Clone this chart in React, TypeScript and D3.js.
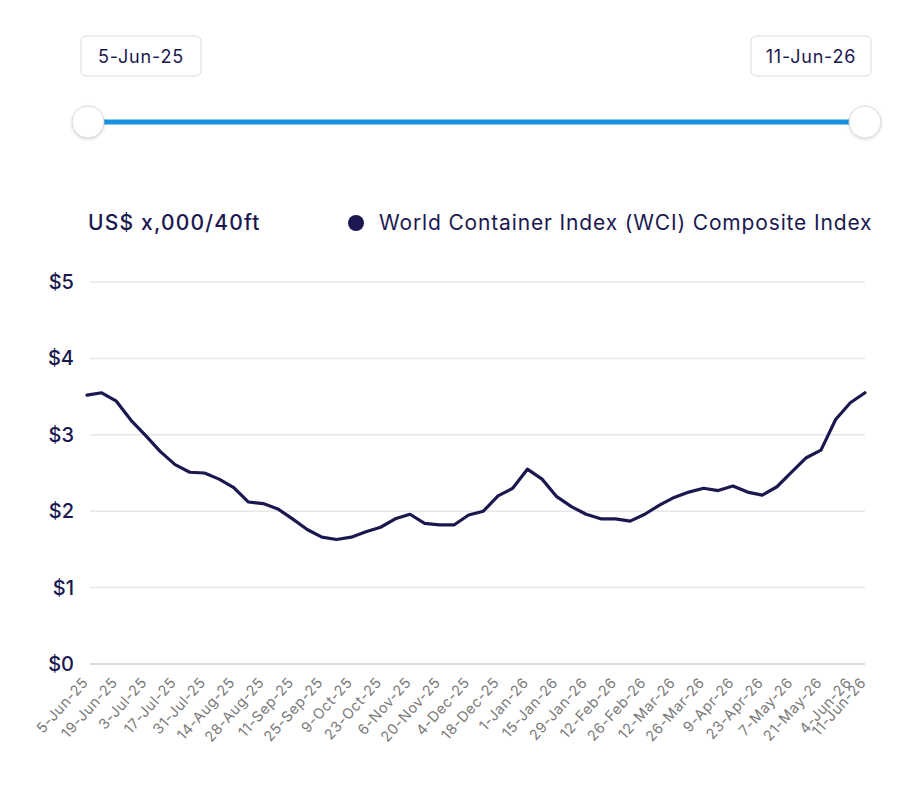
import * as d3 from "d3";
import { useEffect, useRef } from "react";

const weeks = [
  "5-Jun-25", "12-Jun-25", "19-Jun-25", "26-Jun-25", "3-Jul-25", "10-Jul-25", "17-Jul-25", "24-Jul-25",
  "31-Jul-25", "7-Aug-25", "14-Aug-25", "21-Aug-25", "28-Aug-25", "4-Sep-25", "11-Sep-25", "18-Sep-25",
  "25-Sep-25", "2-Oct-25", "9-Oct-25", "16-Oct-25", "23-Oct-25", "30-Oct-25", "6-Nov-25", "13-Nov-25",
  "20-Nov-25", "27-Nov-25", "4-Dec-25", "11-Dec-25", "18-Dec-25", "25-Dec-25", "1-Jan-26", "8-Jan-26",
  "15-Jan-26", "22-Jan-26", "29-Jan-26", "5-Feb-26", "12-Feb-26", "19-Feb-26", "26-Feb-26", "5-Mar-26",
  "12-Mar-26", "19-Mar-26", "26-Mar-26", "2-Apr-26", "9-Apr-26", "16-Apr-26", "23-Apr-26", "30-Apr-26",
  "7-May-26", "14-May-26", "21-May-26", "28-May-26", "4-Jun-26", "11-Jun-26",
];

// WCI composite, US$ thousands per 40ft
const wci = [
  3.52, 3.55, 3.44, 3.19, 2.99, 2.78, 2.61, 2.51, 2.5, 2.42, 2.31, 2.12, 2.1, 2.03, 1.9, 1.76,
  1.66, 1.63, 1.66, 1.73, 1.79, 1.9, 1.96, 1.84, 1.82, 1.82, 1.95, 2.0, 2.2, 2.3, 2.55, 2.42,
  2.19, 2.06, 1.96, 1.9, 1.9, 1.87, 1.96, 2.08, 2.18, 2.25, 2.3, 2.27, 2.33, 2.25, 2.21, 2.32,
  2.51, 2.7, 2.8, 3.2, 3.42, 3.55,
];

const yTicks = [0, 1, 2, 3, 4, 5];
const tickLabels = weeks.filter((_, i) => i % 2 === 0 || i === weeks.length - 1);

const NAVY = "#1b1850";
const FONT = "Inter, 'Noto Sans', sans-serif";

export default function App() {
  const svgRef = useRef<SVGSVGElement>(null);

  useEffect(() => {
    const svg = d3.select(svgRef.current);
    svg.selectAll("*").remove();

    const width = 900;
    const height = 797;
    const margin = { top: 282, right: 35, bottom: 133, left: 87 };

    svg.attr("width", width).attr("height", height).style("font-family", FONT);

    const defs = svg.append("defs");
    const sh = defs.append("filter").attr("id", "shadow").attr("x", "-50%").attr("y", "-50%").attr("width", "200%").attr("height", "200%");
    sh.append("feDropShadow").attr("dx", 0).attr("dy", 1).attr("stdDeviation", 1.5).attr("flood-color", "#000").attr("flood-opacity", 0.18);

    // --- range slider at top ---
    const boxes = [
      { label: weeks[0], x: 81 },
      { label: weeks[weeks.length - 1], x: 751 },
    ];
    const bx = svg.selectAll("g.box").data(boxes).enter().append("g").attr("class", "box");
    bx.append("rect")
      .attr("x", d => d.x)
      .attr("y", 36)
      .attr("width", 120)
      .attr("height", 40)
      .attr("rx", 5)
      .attr("fill", "#fff")
      .attr("stroke", "#dcdcdc");
    bx.append("text")
      .attr("x", d => d.x + 60)
      .attr("y", 63)
      .attr("text-anchor", "middle")
      .attr("fill", NAVY)
      .style("font-size", "18px")
      .style("letter-spacing", "0.8px")
      .text(d => d.label);

    svg.append("line")
      .attr("x1", 88).attr("x2", 865)
      .attr("y1", 122).attr("y2", 122)
      .attr("stroke", "#1592e0")
      .attr("stroke-width", 5);
    svg.selectAll("circle.handle")
      .data([88, 865])
      .enter()
      .append("circle")
      .attr("class", "handle")
      .attr("cx", d => d)
      .attr("cy", 122)
      .attr("r", 16)
      .attr("fill", "#fff")
      .attr("stroke", "#d8d8d8")
      .attr("filter", "url(#shadow)");

    // --- title + legend ---
    svg.append("text")
      .attr("x", 88)
      .attr("y", 230)
      .attr("fill", NAVY)
      .style("font-size", "21px")
      .style("font-weight", 500)
      .style("letter-spacing", "1.2px")
      .text("US$ x,000/40ft");
    svg.append("circle").attr("cx", 356).attr("cy", 223).attr("r", 8).attr("fill", NAVY);
    svg.append("text")
      .attr("x", 379)
      .attr("y", 230)
      .attr("fill", NAVY)
      .style("font-size", "21px")
      .style("letter-spacing", "0.85px")
      .text("World Container Index (WCI) Composite Index");

    // scales
    const x = d3.scalePoint<string>()
      .domain(weeks)
      .range([margin.left, width - margin.right]);
    const y = d3.scaleLinear()
      .domain([0, 5])
      .range([height - margin.bottom, margin.top]);

    // grid
    svg.append("g")
      .selectAll("line")
      .data(yTicks)
      .enter()
      .append("line")
      .attr("x1", margin.left + 3)
      .attr("x2", width - margin.right)
      .attr("y1", d => y(d))
      .attr("y2", d => y(d))
      .attr("stroke", d => (d === 0 ? "#cfcfcf" : "#e8e8e8"))
      .attr("stroke-width", 1.5);

    // y labels
    svg.append("g")
      .selectAll("text")
      .data(yTicks)
      .enter()
      .append("text")
      .attr("x", 74)
      .attr("y", d => y(d) + 7)
      .attr("text-anchor", "end")
      .attr("fill", NAVY)
      .style("font-size", "20px")
      .style("font-weight", 500)
      .text(d => `$${d}`);

    // x labels
    svg.append("g")
      .selectAll("text")
      .data(tickLabels)
      .enter()
      .append("text")
      .attr("transform", d => `translate(${(x(d) ?? 0) + 2}, ${height - margin.bottom + 19}) rotate(-48)`)
      .attr("text-anchor", "end")
      .attr("fill", "#7a7a7a")
      .style("font-size", "14.5px")
      .style("letter-spacing", "0.6px")
      .text(d => d);

    // line
    const line = d3.line<number>()
      .x((_, i) => x(weeks[i]) ?? 0)
      .y(d => y(d));
    svg.append("path")
      .datum(wci)
      .attr("d", line)
      .attr("fill", "none")
      .attr("stroke", NAVY)
      .attr("stroke-width", 3.2)
      .attr("stroke-linejoin", "round")
      .attr("stroke-linecap", "round");

    return () => {};
  }, []);

  return <svg ref={svgRef} style={{ position: "absolute", left: 0, top: 0 }} />;
}
